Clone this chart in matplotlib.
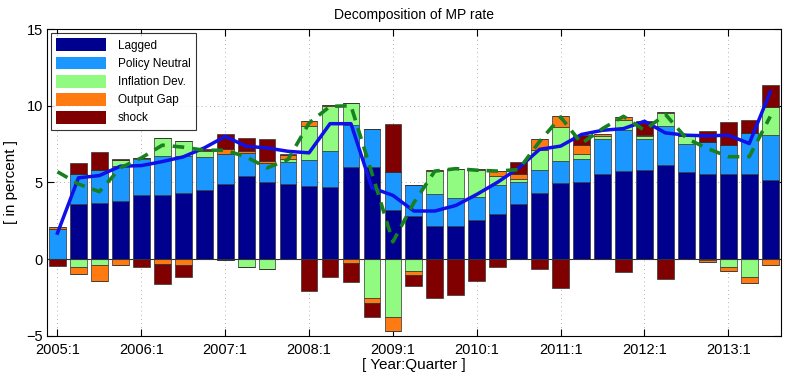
import numpy as np
import matplotlib
matplotlib.use("Agg")
import matplotlib.pyplot as plt

plt.rcParams['font.family'] = ['Liberation Sans', 'DejaVu Sans']

# quarters 2005:1 .. 2013:3
quarters = [f"{2005 + i // 4}:{i % 4 + 1}" for i in range(35)]

lagged = [0.0, 3.57, 3.68, 3.77, 4.16, 4.16, 4.33, 4.48, 4.87, 5.45, 5.02, 4.87,
          4.8, 4.72, 6.02, 6.02, 3.2, 2.81, 2.16, 2.16, 2.55, 2.97, 3.61, 4.33,
          4.94, 5.02, 5.58, 5.78, 5.84, 6.17, 5.67, 5.58, 5.52, 5.58, 5.19]
policy_neutral = [2.0, 2.0, 2.16, 2.33, 2.38, 2.55, 2.42, 2.19, 2.0, 1.48, 1.26, 1.45,
                  1.69, 2.36, 2.75, 2.46, 2.47, 2.02, 2.06, 1.84, 1.52, 1.86, 1.43, 1.51,
                  1.49, 1.54, 2.26, 2.62, 2.02, 2.49, 1.84, 2.04, 1.95, 2.65, 2.88]
inflation_dev = [0.0, -0.54, -0.4, 0.39, 0.06, 1.2, 0.93, 0.36, -0.08, -0.48, -0.65, 0.22,
                 2.17, 2.88, 1.43, -2.55, -3.79, -0.76, 1.56, 1.91, 1.73, 0.62, 0.16, 1.3,
                 2.16, 0.3, 0.21, 0.65, 0.14, 0.86, 0.49, -0.05, -0.54, -1.19, 1.84]
output_gap = [0.08, -0.4, -1.05, -0.35, 0.0, -0.32, -0.39, 0.11, 0.32, 0.1, 0.15, 0.28,
              0.37, 0.08, -0.22, -0.3, -0.87, -0.24, 0.06, 0.0, 0.05, 0.31, 0.38, 0.7,
              0.71, 0.61, 0.13, 0.21, 0.12, 0.06, 0.0, -0.15, -0.26, -0.39, -0.39]
shock = [-0.47, 0.7, 1.13, 0.06, -0.49, -1.3, -0.74, 0.05, 0.97, 0.87, 1.41, 0.06,
         -2.06, -1.19, -1.26, -0.93, 3.14, -0.74, -2.55, -2.34, -1.45, -0.48, 0.74, -0.65,
         -1.9, 0.65, 0.0, -0.82, 0.91, -1.3, 0.0, 0.76, 1.45, 0.86, 1.45]

mp_rate = [1.7, 5.3, 5.45, 6.06, 6.1, 6.36, 6.67, 7.25, 8.0, 7.36, 7.25, 7.03,
           6.93, 8.83, 8.83, 4.65, 4.16, 3.14, 3.14, 3.5, 4.22, 5.02, 5.95, 7.16,
           7.37, 8.13, 8.4, 8.51, 8.99, 8.23, 8.08, 8.04, 8.08, 7.54, 10.9]
dashed_rate = [5.7, 4.9, 4.4, 5.95, 6.6, 7.43, 7.3, 7.1, 7.1, 6.67, 5.95, 6.5,
               8.87, 9.96, 10.0, 5.6, 1.13, 3.68, 5.74, 5.9, 5.8, 5.74, 5.84, 7.68,
               9.27, 7.54, 8.51, 9.31, 8.4, 9.44, 7.87, 7.22, 6.68, 6.68, 9.3]

names = ["Lagged", "Policy Neutral", "Inflation Dev.", "Output Gap", "shock"]
colors = ["#00008f", "#1a98ff", "#90fb80", "#ff7a10", "#800000"]
series = [lagged, policy_neutral, inflation_dev, output_gap, shock]

x = np.arange(len(quarters))
fig = plt.figure(figsize=(7.91, 3.87), dpi=100)
ax = fig.add_axes([0.0594, 0.132, 0.9276, 0.793])

pos_bottom = np.zeros(len(x))
neg_bottom = np.zeros(len(x))
for name, col, vals in zip(names, colors, series):
    v = np.array(vals)
    pos = np.where(v > 0, v, 0)
    neg = np.where(v < 0, v, 0)
    ax.bar(x, pos, 0.8, bottom=pos_bottom, color=col, edgecolor="#333333", linewidth=0.5, label=name)
    ax.bar(x, neg, 0.8, bottom=neg_bottom, color=col, edgecolor="#333333", linewidth=0.5)
    pos_bottom += pos
    neg_bottom += neg

ax.plot(x, mp_rate, color="#1010e8", linewidth=2.5, zorder=5)
ax.plot(x, dashed_rate, color="#17801f", linewidth=2.6, linestyle=(0, (3.2, 2.2)), zorder=5)
ax.axhline(0, color="#333333", linewidth=0.8, zorder=1)

ax.set_xlim(-0.5, 34.5)
ax.set_ylim(-5, 15)
ax.set_yticks([-5, 0, 5, 10, 15])
ax.set_xticks(x[::4])
ax.set_xticklabels(quarters[::4])
ax.tick_params(direction="in", top=True, right=True, length=5, labelsize=10.5)
ax.tick_params(axis="x", pad=5)
ax.tick_params(axis="y", pad=3)
ax.grid(True, linestyle=(0, (1, 4)), color="#999999", linewidth=0.6)
ax.set_axisbelow(True)
for s in ax.spines.values():
    s.set_linewidth(0.8)

ax.set_title("Decomposition of MP rate", fontsize=10, pad=7)
ax.set_ylabel("[ in percent ]", fontsize=11, labelpad=6)
ax.set_xlabel("[ Year:Quarter ]", fontsize=11, labelpad=1)

leg = ax.legend(loc="upper left", fontsize=8.5, handlelength=4.2, handleheight=1.3,
                fancybox=False, edgecolor="black", borderaxespad=0.3, labelspacing=0.4,
                borderpad=0.5, handletextpad=1.0)
leg.get_frame().set_linewidth(0.8)
for h in leg.legend_handles:
    h.set_edgecolor("none")

fig.savefig("out.png", dpi=100)
